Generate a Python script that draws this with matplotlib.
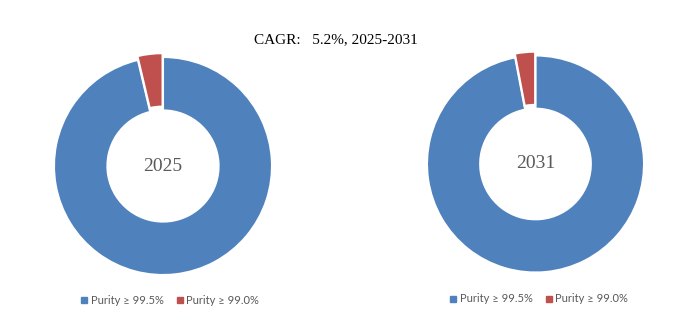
import matplotlib.pyplot as plt
from matplotlib.lines import Line2D

# dane
labels = ['Purity ≥ 99.5%', 'Purity ≥ 99.0%']
share_2025 = [96.3, 3.7]
share_2031 = [97.0, 3.0]
years = ['2025', '2031']
title = 'CAGR:   5.2%, 2025-2031'
colors = ['#4F81BD', '#C0504D']

W, H = 697, 322
fig = plt.figure(figsize=(W / 100, H / 100), dpi=100)


def donut(cx, cy, r, values, year):
    # r w pikselach -> jednostka promienia = r px, osie o boku 2.4 r
    half = 1.2 * r
    ax = fig.add_axes([(cx - half) / W, (H - cy - half) / H, 2 * half / W, 2 * half / H])
    ax.pie(values, colors=colors, startangle=90, counterclock=False,
           explode=[0, 0.035], radius=1.0,
           wedgeprops=dict(width=0.49, edgecolor='white', linewidth=1.5))
    ax.set_xlim(-1.2, 1.2)
    ax.set_ylim(-1.2, 1.2)
    ax.set_aspect('equal')
    ax.axis('off')
    ax.text(0, 0, year, ha='center', va='center', fontsize=14,
            color='#595959', family='Liberation Serif')
    return ax


donut(163, 166, 109, share_2025, years[0])
donut(535.5, 164, 108.5, share_2031, years[1])

fig.text(0.482, 1 - 40 / H, title, ha='center', va='center', fontsize=11,
         family='Liberation Serif', color='black')

handles = [Line2D([], [], marker='s', linestyle='none', markersize=4,
                  markerfacecolor=c, markeredgecolor=c) for c in colors]
for lx, ly in [(169, 300), (538, 299)]:
    fig.legend(handles, labels, loc='center', bbox_to_anchor=(lx / W, 1 - ly / H),
               ncol=2, frameon=False, handletextpad=0.1, columnspacing=0.9,
               handlelength=1.0,
               prop=dict(family=['Lato', 'DejaVu Sans'], size=8),
               labelcolor='#595959')

fig.savefig('out.png', dpi=100)
